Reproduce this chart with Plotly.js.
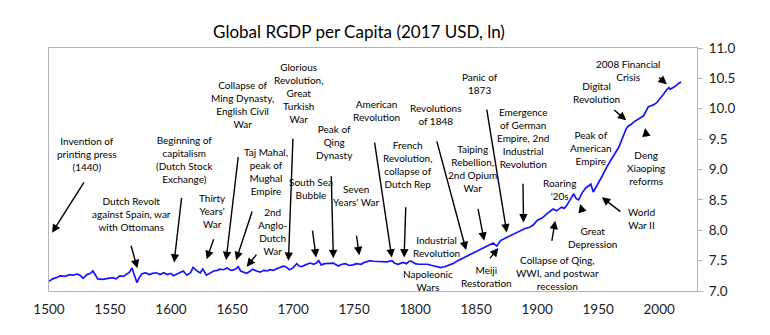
<!DOCTYPE html>
<html>
<head>
<meta charset="utf-8">
<script src="https://cdn.plot.ly/plotly-3.0.1.min.js"></script>
<style>html,body{margin:0;padding:0;background:#fff;}#chart{width:770px;height:335px;}</style>
</head>
<body>
<div id="chart"></div>
<script>
// Years and global real GDP per capita (2017 USD, natural log)
var years = [1500,1503,1506,1509,1513,1517,1520,1523,1526,1528,1531,1534,1536,1538,1540,1544,1548,1552,1555,1558,1561,1564,1566,1568,1570,1572,1574,1576,1579,1582,1585,1588,1591,1594,1597,1600,1602,1605,1608,1610,1613,1616,1618,1620,1622,1624,1626,1629,1632,1635,1638,1640,1643,1646,1648,1650,1653,1655,1657,1660,1662,1665,1667,1670,1673,1676,1679,1681,1684,1687,1689,1692,1694,1697,1700,1703,1705,1707,1710,1714,1717,1719,1721,1723,1726,1730,1733,1737,1740,1743,1746,1749,1752,1756,1758,1760,1763,1766,1770,1774,1777,1781,1783,1786,1788,1790,1793,1795,1797,1800,1803,1806,1810,1814,1818,1821,1824,1827,1831,1835,1840,1845,1851,1856,1861,1864,1867,1870,1875,1880,1886,1890,1894,1897,1900,1904,1908,1911,1913,1916,1918,1920,1922,1924,1927,1930,1932,1934,1937,1940,1943,1944,1946,1948,1950,1953,1957,1961,1964,1967,1970,1973,1975,1977,1979,1982,1985,1987,1989,1991,1993,1995,1998,2001,2004,2006,2008,2009,2011,2014,2016,2018];
var lnGdp = [7.16,7.20,7.22,7.25,7.24,7.27,7.26,7.28,7.25,7.21,7.27,7.29,7.33,7.26,7.20,7.19,7.21,7.22,7.20,7.25,7.24,7.29,7.31,7.38,7.27,7.14,7.22,7.28,7.30,7.27,7.29,7.30,7.27,7.30,7.27,7.29,7.25,7.28,7.30,7.33,7.26,7.30,7.39,7.35,7.32,7.30,7.36,7.26,7.30,7.33,7.34,7.36,7.35,7.38,7.35,7.34,7.36,7.40,7.33,7.31,7.29,7.33,7.36,7.33,7.31,7.34,7.33,7.35,7.34,7.37,7.39,7.41,7.40,7.35,7.38,7.45,7.41,7.40,7.43,7.46,7.44,7.46,7.50,7.43,7.45,7.45,7.46,7.41,7.44,7.45,7.42,7.43,7.45,7.44,7.47,7.48,7.50,7.49,7.49,7.49,7.48,7.50,7.46,7.44,7.46,7.47,7.45,7.49,7.49,7.45,7.44,7.44,7.44,7.42,7.40,7.385,7.40,7.42,7.45,7.50,7.55,7.60,7.66,7.71,7.77,7.79,7.74,7.83,7.88,7.93,7.99,8.03,8.05,8.09,8.16,8.20,8.27,8.31,8.35,8.32,8.35,8.38,8.36,8.40,8.50,8.60,8.52,8.50,8.62,8.70,8.74,8.76,8.63,8.70,8.76,8.88,9.04,9.18,9.27,9.37,9.52,9.67,9.72,9.74,9.78,9.82,9.86,9.88,9.95,10.03,10.05,10.06,10.10,10.17,10.25,10.31,10.35,10.32,10.34,10.38,10.42,10.44];

var yTicks = [7.0,7.5,8.0,8.5,9.0,9.5,10.0,10.5,11.0];
var xTicks = [1500,1550,1600,1650,1700,1750,1800,1850,1900,1950,2000];

// Event labels: [text, label year, label value]
var eventLabels = [
  ["Invention of<br>printing press<br>(1440)", 1531.1, 9.25],
  ["Dutch Revolt<br>against Spain, war<br>with Ottomans", 1567.8, 8.264],
  ["Beginning of<br>capitalism<br>(Dutch Stock<br>Exchange)", 1611.1, 9.157],
  ["Thirty<br>Years'<br>War", 1634.2, 8.322],
  ["Collapse of<br>Ming Dynasty,<br>English Civil<br>War", 1658.2, 10.074],
  ["Taj Mahal,<br>peak of<br>Mughal<br>Empire", 1677.9, 8.967],
  ["Glorious<br>Revolution,<br>Great<br>Turkish<br>War", 1704.5, 10.256],
  ["2nd<br>Anglo-<br>Dutch<br>War", 1683.6, 7.975],
  ["South Sea<br>Bubble", 1715.0, 8.686],
  ["Peak of<br>Qing<br>Dynasty", 1733.6, 9.446],
  ["Seven<br>Years' War", 1752.3, 8.575],
  ["American<br>Revolution", 1768.4, 9.967],
  ["French<br>Revolution,<br>collapse of<br>Dutch Rep", 1793.8, 9.078],
  ["Revolutions<br>of 1848", 1816.4, 9.901],
  ["Industrial<br>Revolution", 1817.8, 7.732],
  ["Napoleonic<br>Wars", 1810.5, 7.17],
  ["Taiping<br>Rebellion,<br>2nd Opium<br>War", 1846.7, 9.012],
  ["Panic of<br>1873", 1853.3, 10.41],
  ["Emergence<br>of German<br>Empire, 2nd<br>Industrial<br>Revolution", 1888.3, 9.521],
  ["Meiji<br>Restoration", 1858.9, 7.235],
  ["Roaring<br>'20s", 1918.0, 8.673],
  ["Collapse of Qing,<br>WWI, and postwar<br>recession", 1916.4, 7.289],
  ["Great<br>Depression", 1945.6, 7.887],
  ["World<br>War II", 1985.4, 8.198],
  ["Peak of<br>American<br>Empire", 1944.3, 9.347],
  ["Deng<br>Xiaoping<br>reforms", 1989.2, 9.028],
  ["Digital<br>Revolution", 1948.5, 10.264],
  ["2008 Financial<br>Crisis", 1974.6, 10.636]
];

// Arrows: [tail year, tail value, head year, head value]
var eventArrows = [
  [1531.1, 8.868, 1502.5, 7.959],
  [1565.0, 7.909, 1572.4, 7.375],
  [1609.6, 8.697, 1602.5, 7.468],
  [1637.4, 7.992, 1629.2, 7.524],
  [1656.0, 9.369, 1645.1, 7.507],
  [1668.9, 8.460, 1653.3, 7.507],
  [1700.2, 9.673, 1696.2, 7.496],
  [1672.4, 7.661, 1662.0, 7.40],
  [1714.8, 8.157, 1718.9, 7.551],
  [1731.1, 9.055, 1733.0, 7.54],
  [1750.8, 8.074, 1754.3, 7.59],
  [1765.6, 9.607, 1780.9, 7.55],
  [1792.6, 8.542, 1791.0, 7.551],
  [1815.6, 9.628, 1841.8, 7.673],
  [1850.0, 8.516, 1856.6, 7.826],
  [1857.4, 10.152, 1875.1, 7.964],
  [1888.3, 8.929, 1888.8, 8.129],
  [1858.8, 7.479, 1868.3, 7.706],
  [1910.7, 7.661, 1914.8, 8.157],
  [1938.5, 8.212, 1935.2, 8.433],
  [1970.7, 8.268, 1953.0, 8.542],
  [1990.7, 9.38, 1988.5, 9.683],
  [1960.7, 10.02, 1973.0, 9.81],
  [1997.5, 10.554, 2006.3, 10.405]
];

var FONT = 'Lato, "Open Sans", sans-serif';
var annotations = [];
eventLabels.forEach(function (e) {
  annotations.push({
    text: e[0], x: e[1], y: e[2], xref: 'x', yref: 'y',
    showarrow: false, xanchor: 'center', yanchor: 'middle', align: 'center',
    font: {family: FONT, size: 10, color: '#000'}
  });
});
eventArrows.forEach(function (a) {
  annotations.push({
    x: a[2], y: a[3], ax: a[0], ay: a[1], xref: 'x', yref: 'y', axref: 'x', ayref: 'y',
    showarrow: true, arrowhead: 2, arrowsize: 1.2, arrowwidth: 1.4, arrowcolor: '#000',
    standoff: 0, startstandoff: 0
  });
});

var trace = {
  x: years, y: lnGdp, type: 'scatter', mode: 'lines',
  line: {color: '#1414ff', width: 1.7},
  hoverinfo: 'skip'
};

var layout = {
  width: 770, height: 335,
  margin: {l: 49, r: 73, t: 48, b: 44, pad: 0},
  paper_bgcolor: '#fff', plot_bgcolor: '#fff',
  showlegend: false,
  title: {
    text: 'Global RGDP per Capita (2017 USD, ln)',
    font: {family: FONT, size: 17, color: '#000'},
    x: 359 / 770, xref: 'container', xanchor: 'center',
    y: 1 - 32 / 335, yref: 'container', yanchor: 'middle'
  },
  xaxis: {
    range: [1500, 2031], tickvals: xTicks, ticktext: xTicks.map(String),
    showgrid: false, zeroline: false, showline: true, linecolor: '#b4b4b4', linewidth: 1, mirror: true,
    ticks: '', ticklabelstandoff: 6, tickfont: {family: FONT, size: 13.5, color: '#222'}
  },
  yaxis: {
    side: 'right', range: [7, 11], tickvals: yTicks, ticktext: yTicks.map(function (v) { return v.toFixed(1); }),
    showgrid: false, zeroline: false, showline: true, linecolor: '#b4b4b4', linewidth: 1, mirror: true,
    ticks: 'outside', ticklen: 5, tickcolor: '#b4b4b4', tickwidth: 1, ticklabelstandoff: 3,
    tickfont: {family: FONT, size: 13.5, color: '#222'}
  },
  annotations: annotations
};

Plotly.newPlot('chart', [trace], layout, {staticPlot: true, displayModeBar: false});
</script>
</body>
</html>
